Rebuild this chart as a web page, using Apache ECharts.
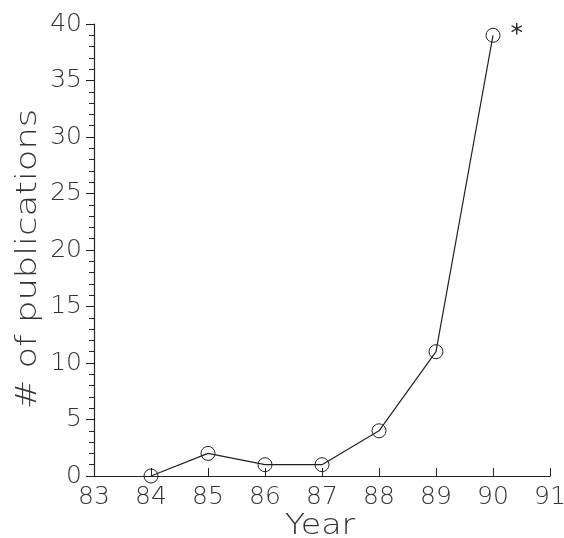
<!DOCTYPE html>
<html><head><meta charset="utf-8">
<script src="https://cdn.jsdelivr.net/npm/echarts@6/dist/echarts.min.js"></script>
<style>html,body{margin:0;padding:0;background:#fff}#c{width:564px;height:538px}</style>
</head><body><div id="c"></div>
<script>
const years = [84, 85, 86, 87, 88, 89, 90];
const publications = [0, 2, 1, 1, 4, 11, 39];
const xTicks = [83, 84, 85, 86, 87, 88, 89, 90, 91];
const yTicks = [0, 5, 10, 15, 20, 25, 30, 35, 40];
const xTitle = 'Year';
const yTitle = '# of publications';
const noteYear = 90;
const noteText = '*';

const fontFam = '"DejaVu Sans ExtraLight", "DejaVu Sans", sans-serif';
const ink = '#333';
const chart = echarts.init(document.getElementById('c'));
chart.setOption({
  backgroundColor: '#fff',
  animation: false,
  grid: {left: 94, right: 14, top: 24, bottom: 62, containLabel: false, outerBoundsMode: 'none'},
  graphic: [
    {type: 'text', x: 320, y: 526, scaleX: 1.15,
     style: {text: xTitle, fontFamily: fontFam, fontWeight: 200, fontSize: 29, fill: ink,
             textAlign: 'center', textVerticalAlign: 'middle'}},
    {type: 'text', x: 28, y: 259, rotation: Math.PI / 2, scaleX: 1.22,
     style: {text: yTitle, fontFamily: fontFam, fontWeight: 200, fontSize: 29, fill: ink,
             textAlign: 'center', textVerticalAlign: 'middle'}}
  ],
  xAxis: {
    type: 'value', min: xTicks[0], max: xTicks[xTicks.length-1], interval: 1,
    axisLine: {show: true, lineStyle: {color: '#222', width: 1.2}},
    axisTick: {show: true, inside: true, length: 8, lineStyle: {color: '#222'}},
    axisLabel: {fontFamily: fontFam, fontWeight: 200, fontSize: 25, color: ink, margin: 9},
    splitLine: {show: false}
  },
  yAxis: {
    type: 'value', min: yTicks[0], max: yTicks[yTicks.length-1], interval: 5,
    axisLine: {show: true, lineStyle: {color: '#222', width: 1.2}},
    axisTick: {show: true, inside: false, length: 8, lineStyle: {color: '#222'}},
    minorTick: {show: true, splitNumber: 5, length: 5, lineStyle: {color: '#222'}},
    axisLabel: {fontFamily: fontFam, fontWeight: 200, fontSize: 25, color: ink, margin: 12},
    splitLine: {show: false}
  },
  series: [{
    type: 'line',
    data: years.map((y, i) => {
      const item = {value: [y, publications[i]]};
      if (y === noteYear) {
        item.label = {show: true, formatter: noteText, position: 'right', distance: 12, offset: [-2, -1],
          fontFamily: '"DejaVu Sans", sans-serif', fontSize: 25, color: '#222'};
      }
      return item;
    }),
    symbol: 'circle', symbolSize: 14,
    lineStyle: {color: '#222', width: 1.2},
    itemStyle: {color: 'rgba(0,0,0,0)', borderColor: '#222', borderWidth: 1},
    z: 3
  }]
});
</script></body></html>
